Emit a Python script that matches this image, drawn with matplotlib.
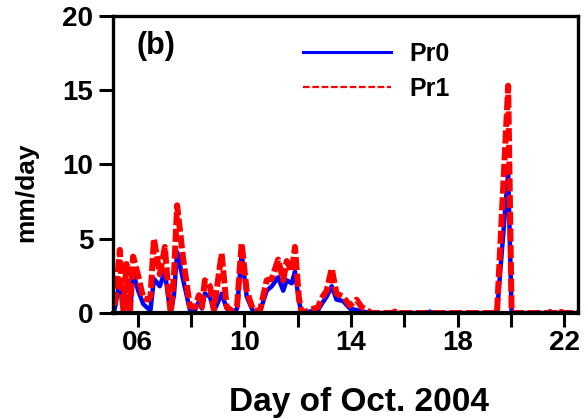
import matplotlib
matplotlib.use('Agg')
import matplotlib.pyplot as plt
from matplotlib.lines import Line2D

plt.rcParams['font.family'] = ['Liberation Sans', 'DejaVu Sans']
plt.rcParams['font.weight'] = 'bold'

# day of Oct. 2004
day = [5.14, 5.33, 5.46, 5.58, 5.71, 5.83, 6.02, 6.21, 6.39, 6.48, 6.61, 6.83,
       7.02, 7.15, 7.24, 7.36, 7.48, 7.71, 7.96, 8.15, 8.30, 8.41, 8.52, 8.71,
       8.86, 9.15, 9.34, 9.58, 9.73, 9.90, 10.09, 10.33, 10.58, 10.84, 11.03,
       11.27, 11.46, 11.59, 11.78, 11.90, 12.05, 12.15, 12.46, 12.77, 12.90,
       13.09, 13.28, 13.46, 13.71, 13.96, 14.21, 14.40, 14.59, 14.78, 15.55,
       15.65, 15.75, 16.90, 16.96, 17.05, 19.48, 19.90, 20.03, 21.40, 21.47,
       21.55, 21.85, 21.90, 21.95, 22.50]
pr0 = [0.3, 2.2, 0.0, 1.1, 0.0, 2.7, 1.5, 0.6, 0.3, 0.2, 2.3, 1.8,
       2.8, 1.0, 0.0, 1.2, 4.1, 2.2, 0.2, 0.2, 0.8, 0.3, 1.3, 1.1,
       0.1, 1.3, 0.3, 0.0, 0.3, 4.0, 1.1, 0.1, 0.05, 1.5, 1.8,
       2.4, 1.5, 2.2, 2.0, 2.8, 0.8, 0.0, 0.1, 0.2, 0.6,
       1.1, 1.8, 0.9, 0.8, 0.3, 0.2, 0.1, 0.05, 0.0, 0.0,
       0.0, 0.0, 0.0, 0.1, 0.0, 0.0, 9.5, 0.0, 0.0, 0.12,
       0.0, 0.0, 0.0, 0.0, 0.0]
pr1 = [0.5, 4.25, 0.0, 3.3, 0.0, 3.8, 2.5, 1.0, 0.9, 1.1, 5.0, 2.6,
       4.45, 1.5, 0.0, 2.5, 7.25, 3.6, 0.45, 0.4, 1.2, 0.4, 2.2, 1.8,
       0.2, 4.0, 0.4, 0.1, 0.5, 4.7, 1.5, 0.2, 0.1, 2.2, 2.3,
       3.6, 2.2, 3.5, 2.8, 4.45, 1.0, 0.0, 0.2, 0.4, 1.0,
       1.5, 3.0, 1.3, 1.1, 0.5, 0.9, 0.4, 0.2, 0.0, 0.0,
       0.1, 0.0, 0.0, 0.05, 0.0, 0.0, 15.3, 0.0, 0.0, 0.05,
       0.0, 0.0, 0.08, 0.0, 0.0]

xticks = [6, 8, 10, 12, 14, 16, 18, 20, 22]
xticklabels = ['06', '', '10', '', '14', '', '18', '', '22']
yticks = [0, 5, 10, 15, 20]

fig = plt.figure(figsize=(5.88, 4.19), dpi=100)
ax = fig.add_axes([0.192, 0.253, 0.791, 0.709])

ax.plot(day, pr0, color='#0000ff', lw=3.2)
ax.plot(day, pr1, color='#ff0000', lw=4.3, linestyle=(0, (2.2, 0.6)))

ax.set_xlim(5.07, 22.52)
ax.set_ylim(0, 20)
ax.set_xticks(xticks)
ax.set_xticklabels(xticklabels)
ax.set_yticks(yticks)
ax.tick_params(axis='both', direction='out', length=10, width=2.2)
ax.tick_params(axis='x', labelsize=20, pad=2)
ax.tick_params(axis='y', labelsize=20, pad=4)
for s in ax.spines.values():
    s.set_linewidth(2.4)
ax.spines['bottom'].set_linewidth(3.0)

ax.set_xlabel('Day of Oct. 2004', fontsize=24, fontweight='bold')
ax.xaxis.set_label_coords(0.529, -0.249)
ax.set_ylabel('mm/day', fontsize=19, fontweight='bold')
ax.yaxis.set_label_coords(-0.161, 0.407)
ax.text(0.05, 0.948, '(b)', transform=ax.transAxes, fontsize=22,
        fontweight='bold', va='top', ha='left')

handles = [Line2D([], [], color='#0000ff', lw=2.2),
           Line2D([], [], color='#ff0000', lw=1.6, linestyle=(0, (3, 1.2)))]
ax.legend(handles, ['Pr0', 'Pr1'], loc='upper left', bbox_to_anchor=(0.382, 0.955),
          frameon=False, borderpad=0, fontsize=18, handlelength=3.5,
          handletextpad=0.75, labelspacing=0.45)

plt.savefig('out.png', dpi=100)
